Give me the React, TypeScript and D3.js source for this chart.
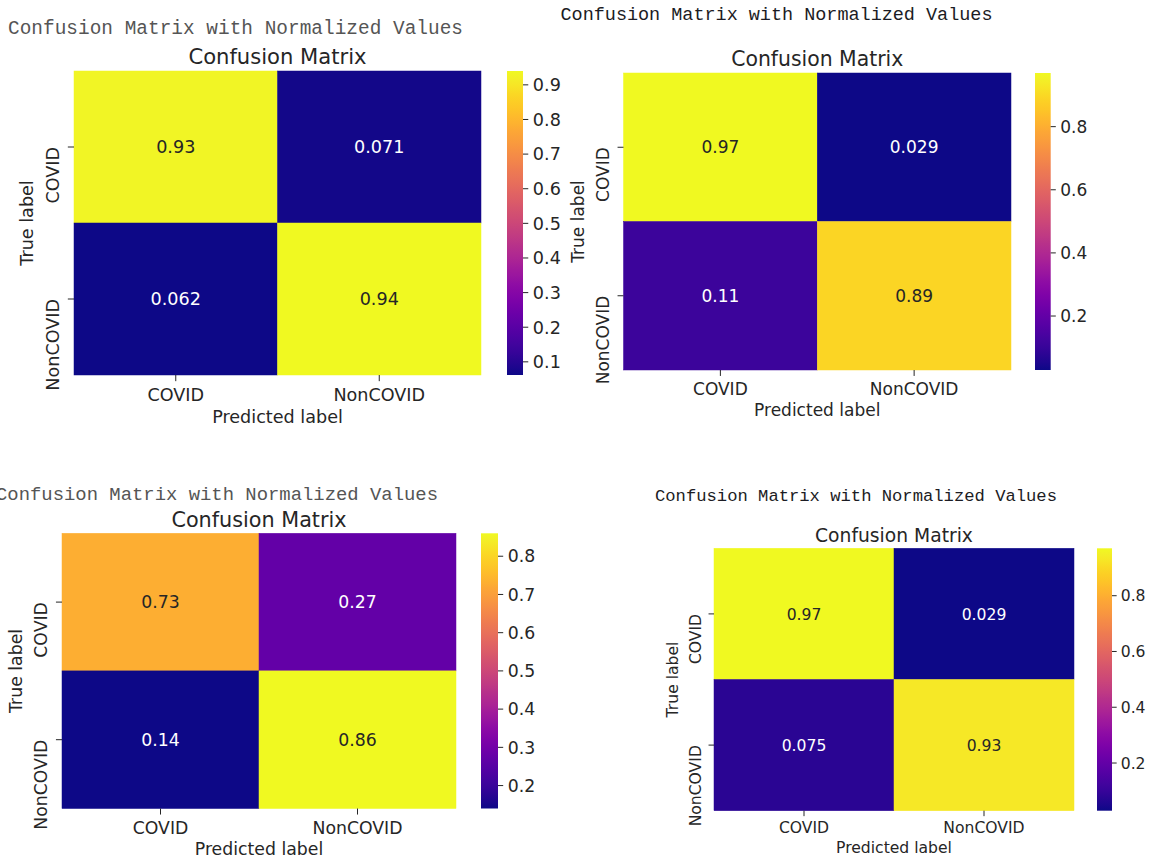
import React from 'react';
import * as d3 from 'd3';

// ---------- data ----------
const classLabels = ['COVID', 'NonCOVID'];
const headingText = 'Confusion Matrix with Normalized Values';
const titleText = 'Confusion Matrix';
const xLabelText = 'Predicted label';
const yLabelText = 'True label';

const matrixTopLeft = [
  [0.93, 0.071],
  [0.062, 0.94],
];
const matrixTopRight = [
  [0.97, 0.029],
  [0.11, 0.89],
];
const matrixBottomLeft = [
  [0.73, 0.27],
  [0.14, 0.86],
];
const matrixBottomRight = [
  [0.97, 0.029],
  [0.075, 0.93],
];

const cbarTicksTopLeft = [0.1, 0.2, 0.3, 0.4, 0.5, 0.6, 0.7, 0.8, 0.9];
const cbarTicksTopRight = [0.2, 0.4, 0.6, 0.8];
const cbarTicksBottomLeft = [0.2, 0.3, 0.4, 0.5, 0.6, 0.7, 0.8];
const cbarTicksBottomRight = [0.2, 0.4, 0.6, 0.8];

// ---------- layout ----------
type Layout = {
  id: string;
  matrix: number[][];
  ticks: number[];
  k: number;
  box: [number, number, number, number];
  cbar: [number, number];
  heading: { x: number; y: number; len: number; size: number; color: string };
};

const layouts: Layout[] = [
  {
    id: 'tl',
    matrix: matrixTopLeft,
    ticks: cbarTicksTopLeft,
    k: 1.76,
    box: [74, 71, 481, 375],
    cbar: [507, 523],
    heading: { x: 8, y: 34, len: 455, size: 19.4, color: '#555555' },
  },
  {
    id: 'tr',
    matrix: matrixTopRight,
    ticks: cbarTicksTopRight,
    k: 1.7,
    box: [623.5, 73, 1011, 370],
    cbar: [1035, 1050.7],
    heading: { x: 560.5, y: 19.5, len: 432, size: 18.5, color: '#1c1c24' },
  },
  {
    id: 'bl',
    matrix: matrixBottomLeft,
    ticks: cbarTicksBottomLeft,
    k: 1.73,
    box: [62, 533.3, 456, 808.5],
    cbar: [481, 498],
    heading: { x: -4, y: 500, len: 442, size: 18.9, color: '#555555' },
  },
  {
    id: 'br',
    matrix: matrixBottomRight,
    ticks: cbarTicksBottomRight,
    k: 1.56,
    box: [714, 548.3, 1074, 810.7],
    cbar: [1097, 1112],
    heading: { x: 655, y: 501.3, len: 402, size: 17.2, color: '#1c1c24' },
  },
];

const FONT = '"DejaVu Sans", sans-serif';
const MONO = '"Liberation Mono", "DejaVu Sans Mono", monospace';
const INK = '#262626';

function luminance(c: string) {
  const rgb = d3.rgb(c);
  const lin = (v: number) => {
    const s = v / 255;
    return s <= 0.03928 ? s / 12.92 : Math.pow((s + 0.055) / 1.055, 2.4);
  };
  return 0.2126 * lin(rgb.r) + 0.7152 * lin(rgb.g) + 0.0722 * lin(rgb.b);
}

function Panel({ cfg }: { cfg: Layout }) {
  const { id, matrix, ticks, k, box, cbar, heading } = cfg;
  const [x0, y0, x1, y1] = box;
  const fs = 10 * k;
  const tfs = 12 * k;
  const values = matrix.flat();
  const [vmin, vmax] = d3.extent(values) as [number, number];
  const color = d3.scaleSequential(d3.interpolatePlasma).domain([vmin, vmax]);
  const xs = d3.scaleBand<string>().domain(classLabels).range([x0, x1]);
  const ys = d3.scaleBand<string>().domain(classLabels).range([y0, y1]);
  const cy = d3.scaleLinear().domain([vmin, vmax]).range([y1, y0]);
  const fmt = d3.format('.2');
  const tickFmt = d3.format('.1f');
  const tickLen = 3.5 * k;
  const midX = (x0 + x1) / 2;
  const midY = (y0 + y1) / 2;
  const gradId = `grad-${id}`;
  const stops = d3.range(0, 1.0001, 0.025);

  return (
    <g>
      <defs>
        <linearGradient id={gradId} x1="0" y1="1" x2="0" y2="0">
          {stops.map((t) => (
            <stop key={t} offset={t} stopColor={d3.interpolatePlasma(t)} />
          ))}
        </linearGradient>
      </defs>

      {/* notebook heading */}
      <text
        x={heading.x}
        y={heading.y}
        fontFamily={MONO}
        fontSize={heading.size}
        fill={heading.color}
        textLength={heading.len}
        lengthAdjust="spacing"
      >
        {headingText}
      </text>

      {/* title */}
      <text x={midX} y={y0 - 3.9 * k} textAnchor="middle" fontFamily={FONT} fontSize={tfs} fill={INK}>
        {titleText}
      </text>

      {/* cells */}
      {matrix.map((row, ri) =>
        row.map((v, ci) => {
          const fill = color(v);
          const txt = luminance(fill) > 0.408 ? INK : '#ffffff';
          const cx = (xs(classLabels[ci]) as number) + xs.bandwidth() / 2;
          const cyy = (ys(classLabels[ri]) as number) + ys.bandwidth() / 2;
          return (
            <g key={`${ri}-${ci}`}>
              <rect
                x={xs(classLabels[ci])}
                y={ys(classLabels[ri])}
                width={xs.bandwidth()}
                height={ys.bandwidth()}
                fill={fill}
                stroke={fill}
                strokeWidth={0.5}
              />
              <text
                x={cx}
                y={cyy}
                dy="0.36em"
                textAnchor="middle"
                fontFamily={FONT}
                fontSize={fs}
                fill={txt}
              >
                {fmt(v)}
              </text>
            </g>
          );
        })
      )}

      {/* x ticks */}
      {classLabels.map((c) => {
        const x = (xs(c) as number) + xs.bandwidth() / 2;
        return (
          <g key={`xt-${c}`}>
            <line x1={x} x2={x} y1={y1} y2={y1 + tickLen} stroke={INK} strokeWidth={1} />
            <text
              x={x}
              y={y1 + 7 * k + 0.76 * fs}
              textAnchor="middle"
              fontFamily={FONT}
              fontSize={fs}
              fill={INK}
            >
              {c}
            </text>
          </g>
        );
      })}

      {/* y ticks */}
      {classLabels.map((c) => {
        const y = (ys(c) as number) + ys.bandwidth() / 2;
        const lx = x0 - 7 * k - 0.5 * fs;
        return (
          <g key={`yt-${c}`}>
            <line x1={x0 - tickLen} x2={x0} y1={y} y2={y} stroke={INK} strokeWidth={1} />
            <text
              transform={`translate(${lx},${y}) rotate(-90)`}
              dy="0.36em"
              textAnchor="end"
              fontFamily={FONT}
              fontSize={fs}
              fill={INK}
            >
              {c}
            </text>
          </g>
        );
      })}

      {/* axis labels */}
      <text
        x={midX}
        y={y1 + 10.5 * k + 1.65 * fs}
        textAnchor="middle"
        fontFamily={FONT}
        fontSize={fs}
        fill={INK}
      >
        {xLabelText}
      </text>
      <text
        transform={`translate(${x0 - 11 * k - 1.6 * fs},${midY}) rotate(-90)`}
        dy="0.36em"
        textAnchor="middle"
        fontFamily={FONT}
        fontSize={fs}
        fill={INK}
      >
        {yLabelText}
      </text>

      {/* colorbar */}
      <rect x={cbar[0]} y={y0} width={cbar[1] - cbar[0]} height={y1 - y0} fill={`url(#${gradId})`} />
      {ticks.map((t) => {
        const y = cy(t);
        return (
          <g key={`ct-${t}`}>
            <line x1={cbar[1]} x2={cbar[1] + 3 * k} y1={y} y2={y} stroke={INK} strokeWidth={1} />
            <text
              x={cbar[1] + 5.6 * k}
              y={y}
              dy="0.36em"
              fontFamily={FONT}
              fontSize={fs}
              fill={INK}
            >
              {tickFmt(t)}
            </text>
          </g>
        );
      })}
    </g>
  );
}

export default function App() {
  return (
    <svg
      width={1152}
      height={860}
      viewBox="0 0 1152 860"
      style={{ position: 'absolute', left: 0, top: 0, background: '#ffffff' }}
    >
      <rect x={0} y={0} width={1152} height={860} fill="#ffffff" />
      {layouts.map((cfg) => (
        <Panel key={cfg.id} cfg={cfg} />
      ))}
    </svg>
  );
}
